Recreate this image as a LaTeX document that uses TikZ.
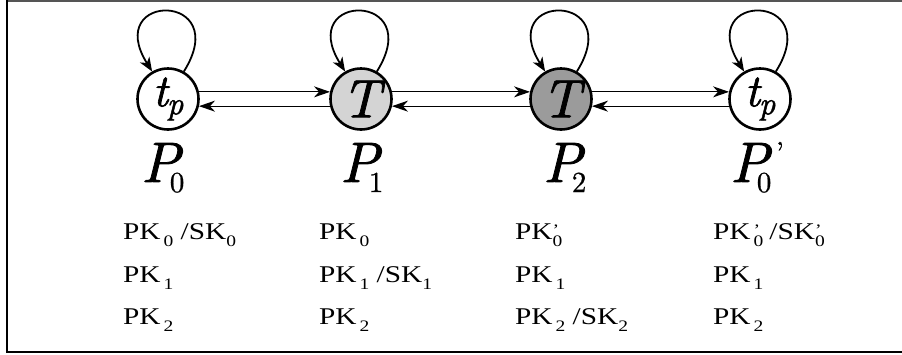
\documentclass[tikz,border=0pt]{standalone}
\usepackage{fontspec}
\newfontfamily\tnr{Liberation Serif}[FakeStretch=1.22]
\newfontfamily\pit{lmroman10-italic.otf}[FakeBold=1.4]
\newfontfamily\prm{lmroman10-regular.otf}[FakeBold=0.8]
\usetikzlibrary{arrows.meta}
\definecolor{lightfill}{RGB}{212,212,212}
\definecolor{darkfill}{RGB}{155,155,155}
\definecolor{framegray}{RGB}{85,85,85}
\newcommand\pksub[1]{\raisebox{-7pt}{\fontsize{16}{16}\selectfont #1}}
\newcommand\pksubq[1]{\rlap{\raisebox{-7pt}{\fontsize{16}{16}\selectfont #1}}\raisebox{4pt}{\fontsize{16}{16}\selectfont ’}\hspace{2pt}}
\newcommand\plabel[1]{{\pit\fontsize{57}{60}\selectfont P}\hspace{-10pt}\raisebox{-10pt}{\prm\fontsize{29}{30}\selectfont #1}}
\newcommand\plabelq[1]{{\pit\fontsize{57}{60}\selectfont P}\hspace{-12pt}\rlap{\raisebox{-10pt}{\prm\fontsize{29}{30}\selectfont #1}}\hspace{19pt}\raisebox{20pt}{\prm\fontsize{29}{30}\selectfont ’}}
\newcommand\tplabel{{\pit\fontsize{46}{48}\selectfont t}\hspace{-1pt}\raisebox{-8pt}{\pit\fontsize{32}{34}\selectfont p}}
\newcommand\tlabel{{\pit\fontsize{54}{56}\selectfont T}}
\begin{document}
\begin{tikzpicture}[x=1pt,y=-1pt,
  state/.style={circle,draw,line width=2.6pt,minimum size=61pt,inner sep=0pt},
  link/.style={line width=1.1pt,-{Stealth[length=16pt,width=11pt,inset=5pt]}},
  selfloop/.style={line width=1.8pt,-{Stealth[length=14pt,width=11pt,inset=4pt]}},
  pk/.style={anchor=base west,inner sep=0pt,font=\tnr\fontsize{24}{26}\selectfont},
  plab/.style={anchor=base west,inner sep=0pt}]
\useasboundingbox (0,0) rectangle (902,354);
\draw[framegray,line width=2pt] (902,1) -- (7,1);
\draw[black,line width=2pt] (7,0) -- (7,352) -- (902,352);

\node[state,fill=white] (a) at (168,99) {\tplabel};
\node[state,fill=lightfill] (b) at (361,99) {\tlabel};
\node[state,fill=darkfill] (c) at (561,99) {\tlabel};
\node[state,fill=white] (d) at (760,99) {\tplabel};

\draw[link] (a.13) -- (b.167);
\draw[link] (b.193) -- (a.-13);
\draw[link] (b.13) -- (c.167);
\draw[link] (c.193) -- (b.-13);
\draw[link] (c.13) -- (d.167);
\draw[link] (d.193) -- (c.-13);

\foreach \n in {a,b,c,d}
  \draw[selfloop] (\n.60) .. controls +(50,-80) and +(-50,-80) .. (\n.120);

\node[plab] (la) at (141,182) {\plabel{0}};
\node[plab] (lb) at (340,182) {\plabel{1}};
\node[plab] (lc) at (543,182) {\plabel{2}};
\node[plab] (ld) at (730,182) {\plabelq{0}};

\node[pk] (a1) at (123,239) {PK\hspace{3pt}\pksub{0} /SK\pksub{0}};
\node[pk] (a2) at (123,282) {PK\hspace{3pt}\pksub{1}};
\node[pk] (a3) at (123,324) {PK\hspace{3pt}\pksub{2}};

\node[pk] (b1) at (319,239) {PK\hspace{3pt}\pksub{0}};
\node[pk] (b2) at (319,282) {PK\hspace{3pt}\pksub{1} /SK\pksub{1}};
\node[pk] (b3) at (319,324) {PK\hspace{3pt}\pksub{2}};

\node[pk] (c1) at (515,239) {PK\pksubq{0}};
\node[pk] (c2) at (515,282) {PK\hspace{3pt}\pksub{1}};
\node[pk] (c3) at (515,324) {PK\hspace{3pt}\pksub{2} /SK\pksub{2}};

\node[pk] (d1) at (713,239) {PK\hspace{3pt}\pksubq{0} /SK\pksubq{0}};
\node[pk] (d2) at (713,282) {PK\hspace{3pt}\pksub{1}};
\node[pk] (d3) at (713,324) {PK\hspace{3pt}\pksub{2}};
\end{tikzpicture}
\end{document}
